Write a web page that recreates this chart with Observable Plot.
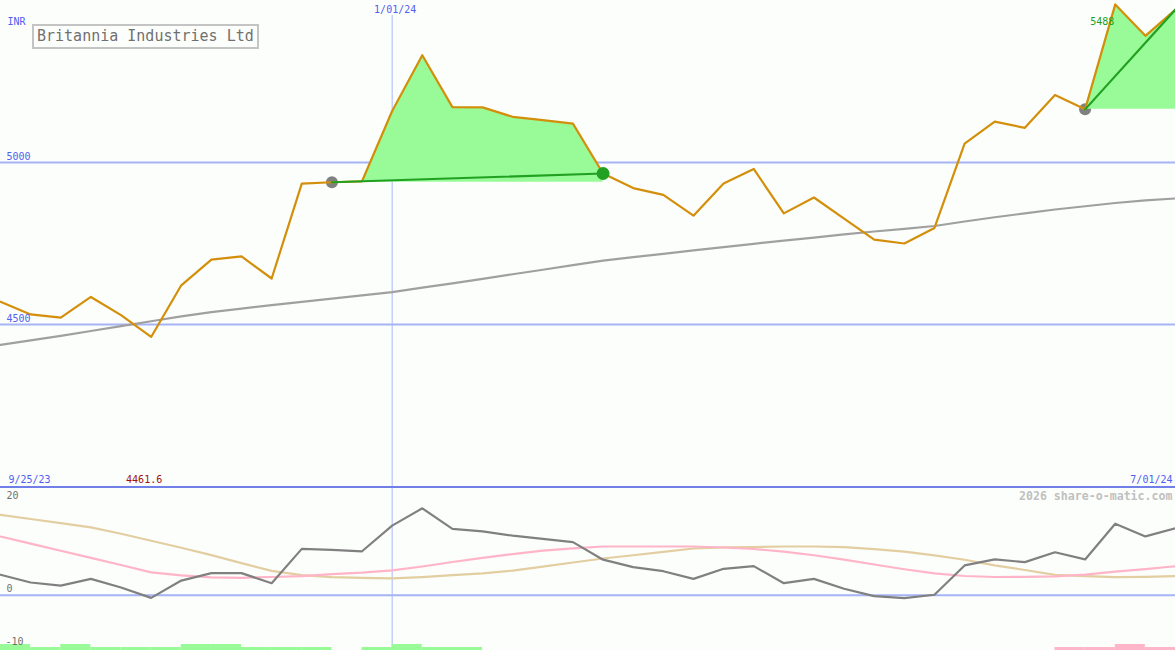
<!DOCTYPE html>
<html>
<head>
<meta charset="utf-8">
<script src="https://cdn.jsdelivr.net/npm/d3@7"></script>
<script src="https://cdn.jsdelivr.net/npm/@observablehq/plot@0.6"></script>
<style>
  html, body { margin: 0; padding: 0; background: #fcfefc; }
  #wrap { position: relative; width: 1175px; height: 650px; background: #fcfefc; overflow: hidden; }
  #wrap svg { display: block; }
  #sep { height: 2px; background: #7080e8; position: relative; z-index: 1; }
  #title {
    position: absolute; left: 32px; top: 24px; width: 227px; height: 25px;
    box-sizing: border-box; border: 2px solid #c4c4c4; background: #fcfefc;
    font: 15px "DejaVu Sans Mono", monospace; color: #707070;
    padding-left: 3px; line-height: 21px; white-space: nowrap;
  }
</style>
</head>
<body>
<div id="wrap">
  <div id="topPanel"></div>
  <div id="sep"></div>
  <div id="botPanel"></div>
  <div id="title">Britannia Industries Ltd</div>
</div>
<script>
// ---------- data ----------
const dates = [
  "2023-10-02","2023-10-09","2023-10-16","2023-10-23","2023-10-30",
  "2023-11-06","2023-11-13","2023-11-20","2023-11-27",
  "2023-12-04","2023-12-11","2023-12-18","2023-12-25",
  "2024-01-01","2024-01-08","2024-01-15","2024-01-22","2024-01-29",
  "2024-02-05","2024-02-12","2024-02-19","2024-02-26",
  "2024-03-04","2024-03-11","2024-03-18","2024-03-25",
  "2024-04-01","2024-04-08","2024-04-15","2024-04-22","2024-04-29",
  "2024-05-06","2024-05-13","2024-05-20","2024-05-27",
  "2024-06-03","2024-06-10","2024-06-17","2024-06-24","2024-07-01"
];
const closes = [4570, 4531, 4521, 4585, 4529, 4461.6, 4621, 4700, 4710, 4642,
  4935, 4939, 4942, 5159, 5331, 5171, 5170, 5141, 5131, 5120,
  4966, 4921, 4900, 4836, 4935, 4980, 4843, 4892, 4827, 4762,
  4750, 4798, 5058, 5126, 5107, 5208, 5164, 5488, 5391, 5472];
const movingAvg = [4437, 4451, 4465, 4480, 4495, 4510, 4525, 4538, 4549, 4560,
  4570, 4580, 4590, 4600, 4614, 4627, 4641, 4655, 4669, 4683,
  4697, 4708, 4718, 4729, 4739, 4749, 4759, 4768, 4778, 4787,
  4795, 4804, 4818, 4831, 4843, 4855, 4865, 4875, 4883, 4889];
const momentum = [4.25, 2.65, 2.0, 3.4, 1.6, -0.55, 3.05, 4.6, 4.6, 2.5,
  9.65, 9.45, 9.15, 14.5, 18.1, 13.8, 13.3, 12.4, 11.75, 11.05,
  7.4, 5.85, 5.0, 3.4, 5.5, 6.05, 2.5, 3.4, 1.35, -0.2,
  -0.6, 0.1, 6.2, 7.45, 6.9, 8.95, 7.45, 14.9, 12.25, 13.95];
const pinkLine = [12.23, 10.75, 9.25, 7.77, 6.29, 4.77, 4.15, 3.71, 3.63, 3.79,
  3.96, 4.38, 4.69, 5.17, 5.98, 6.92, 7.77, 8.56, 9.27, 9.77,
  10.15, 10.15, 10.15, 10.15, 9.94, 9.63, 9.06, 8.33, 7.42, 6.4,
  5.4, 4.54, 4.0, 3.79, 3.81, 3.94, 4.29, 4.9, 5.44, 6.04];
const tanLine = [16.75, 15.88, 15.0, 14.13, 12.81, 11.35, 9.88, 8.35, 6.69, 5.08,
  4.19, 3.77, 3.63, 3.5, 3.77, 4.17, 4.56, 5.13, 5.96, 6.81,
  7.65, 8.33, 9.02, 9.73, 9.96, 10.04, 10.15, 10.15, 10.02, 9.6,
  9.06, 8.31, 7.38, 6.21, 5.25, 4.25, 3.96, 3.75, 3.81, 3.96];
// weekly signal strength (positive = buy strength, negative = sell strength)
const signals = [2, 1, 2, 1, 1, 1, 2, 2, 1, 1, 1, 0, 1, 2, 1, 1,
  0, 0, 0, 0, 0, 0, 0, 0, 0, 0, 0, 0, 0, 0, 0, 0, 0, 0, 0,
  -1, -1, -2, -1];
const tradeStarts = ["2023-12-18", "2024-06-10"];
const tradeEnds = ["2024-02-19", "2024-07-01"];
const closedTrades = ["2024-02-19"];
const yTicksTop = [4500, 5000];
const markerDate = "2024-01-01";
const startLabel = "9/25/23", endLabel = "7/01/24", markerLabel = "1/01/24";

// ---------- derived ----------
const rows = dates.map((d, i) => ({
  date: new Date(d), close: closes[i], ma: movingAvg[i],
  mom: momentum[i], pink: pinkLine[i], tan: tanLine[i]
}));
const T = s => new Date(s).getTime();
const areaRows = [], trendRows = [], buyPts = [], sellPts = [];
tradeStarts.forEach((s, k) => {
  const seg = rows.filter(r => r.date >= T(s) && r.date <= T(tradeEnds[k]));
  const base = seg[0].close;
  seg.forEach(r => areaRows.push({date: r.date, y1: base, y2: r.close, k}));
  trendRows.push({date: seg[0].date, v: seg[0].close, k});
  trendRows.push({date: seg[seg.length - 1].date, v: seg[seg.length - 1].close, k});
  buyPts.push(seg[0]);
});
closedTrades.forEach(s => sellPts.push(rows.find(r => +r.date === T(s))));
const bars = signals.map((s, i) => ({x1: rows[i].date, x2: rows[i + 1].date, s}));
const minRow = rows.reduce((a, b) => b.close < a.close ? b : a);
const maxRow = rows.reduce((a, b) => b.close > a.close ? b : a);
const xDomain = [rows[0].date, rows[rows.length - 1].date];
const marker = new Date(markerDate);

const FONT = "DejaVu Sans Mono, monospace";
const BLUE = "#5060f0", GRID = "#a4b4f4";
const baseStyle = {background: "transparent", fontFamily: FONT, fontSize: "10px", overflow: "hidden"};

// ---------- top panel ----------
const topChart = Plot.plot({
  width: 1175, height: 486, margin: 0,
  style: baseStyle,
  x: {type: "utc", domain: xDomain, axis: null},
  y: {domain: [4000, 5500], axis: null},
  marks: [
    Plot.ruleY(yTicksTop, {stroke: GRID, strokeWidth: 2}),
    Plot.ruleX([marker], {stroke: "#a8b8f8", strokeWidth: 1, insetTop: 15}),
    Plot.line(rows, {x: "date", y: "ma", stroke: "#a0a0a0", strokeWidth: 2.2}),
    Plot.dot(buyPts, {x: "date", y: "close", r: 6, fill: "#808080"}),
    Plot.areaY(areaRows, {x: "date", y1: "y1", y2: "y2", z: "k", fill: "#98fb98", curve: "linear"}),
    Plot.line(rows, {x: "date", y: "close", stroke: "#d48f0a", strokeWidth: 2.2}),
    Plot.line(trendRows, {x: "date", y: "v", z: "k", stroke: "#22a022", strokeWidth: 2.2}),
    Plot.dot(sellPts, {x: "date", y: "close", r: 6.5, fill: "#22a022"}),
    Plot.text(yTicksTop, {y: d => d, text: d => String(d), frameAnchor: "left", dx: 6, dy: -6, textAnchor: "start", fill: BLUE}),
    Plot.text(["INR"], {frameAnchor: "top-left", dx: 7, dy: 21, textAnchor: "start", lineAnchor: "middle", fill: BLUE}),
    Plot.text([markerLabel], {x: () => marker, frameAnchor: "top", dx: 3, dy: 9, lineAnchor: "middle", fill: BLUE}),
    Plot.text([startLabel], {frameAnchor: "bottom-left", dx: 8, dy: -7, textAnchor: "start", lineAnchor: "middle", fill: BLUE}),
    Plot.text([endLabel], {frameAnchor: "bottom-right", dx: -3, dy: -7, textAnchor: "end", lineAnchor: "middle", fill: BLUE}),
    Plot.text([minRow], {x: "date", text: d => d.close.toFixed(1), frameAnchor: "bottom", dx: -7, dy: -7, lineAnchor: "middle", fill: "#a01010"}),
    Plot.text([maxRow], {x: "date", y: "close", text: d => String(d.close), dx: -1, dy: 17, textAnchor: "end", lineAnchor: "middle", fill: "#20a020"})
  ]
});
document.getElementById("topPanel").append(topChart);

// ---------- bottom panel ----------
const LOW = [-11.52, 22.23];
const botChart = Plot.plot({
  width: 1175, height: 162, margin: 0,
  style: baseStyle,
  x: {type: "utc", domain: xDomain, axis: null},
  y: {domain: LOW, axis: null},
  marks: [
    Plot.ruleX([marker], {stroke: "#a8b8f8", strokeWidth: 1}),
    Plot.ruleY([0], {stroke: GRID, strokeWidth: 2}),
    Plot.rectY(bars.filter(b => b.s !== 0), {
      x1: "x1", x2: "x2", y1: LOW[0], y2: d => LOW[0] + Math.abs(d.s) * 0.625,
      fill: d => d.s > 0 ? "#98fb98" : "#ffb6c8"
    }),
    Plot.line(rows, {x: "date", y: "tan", stroke: "#e2cea0", strokeWidth: 2.2}),
    Plot.line(rows, {x: "date", y: "pink", stroke: "#ffb4c8", strokeWidth: 2.2}),
    Plot.line(rows, {x: "date", y: "mom", stroke: "#808080", strokeWidth: 2.2}),
    Plot.text([20], {y: d => d, text: d => String(d), frameAnchor: "left", dx: 6, dy: -3, textAnchor: "start", fill: "#707070"}),
    Plot.text([0], {y: d => d, text: d => String(d), frameAnchor: "left", dx: 6, dy: -6, textAnchor: "start", fill: "#707070"}),
    Plot.text([-10], {y: d => d, text: d => String(d), frameAnchor: "left", dx: 5, dy: -1, textAnchor: "start", fill: "#707070"}),
    Plot.text(["2026 share-o-matic.com"], {frameAnchor: "top-right", dx: -3, dy: 8, textAnchor: "end", lineAnchor: "middle", fill: "#c0c0c0", fontWeight: "bold", fontSize: 11.6})
  ]
});
document.getElementById("botPanel").append(botChart);
</script>
</body>
</html>
